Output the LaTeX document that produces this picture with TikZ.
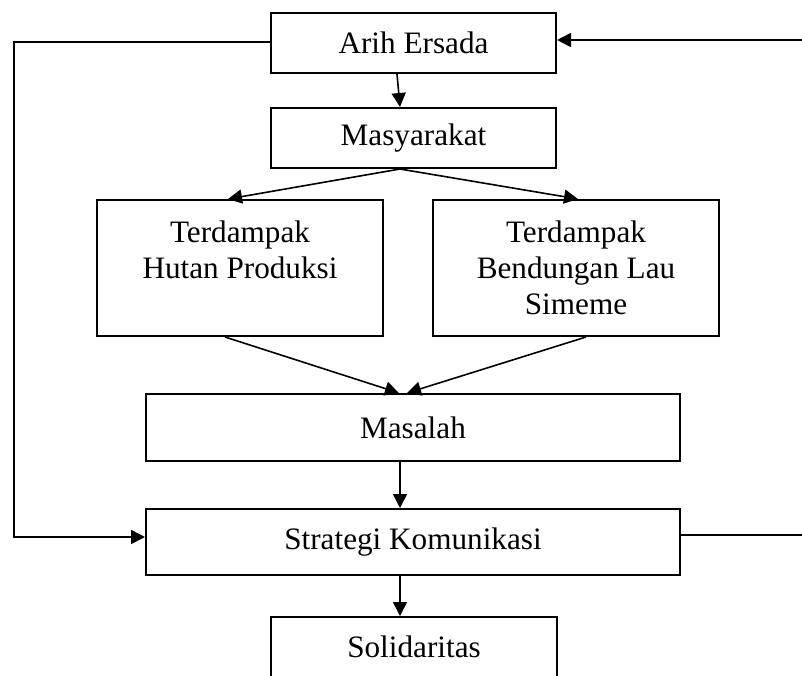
\documentclass[tikz,border=0pt]{standalone}
\usepackage{fontspec}
\setmainfont{Liberation Serif}
\usepackage{tikz}
\usetikzlibrary{arrows.meta}

\tikzset{
  box/.style={draw=black, line width=1pt, rectangle, align=center, inner sep=0pt,
    font=\fontsize{15.6}{18}\selectfont},
  arr/.style={-{Triangle[length=7pt,width=7pt]}, line width=0.8pt},
  ln/.style={line width=0.8pt}
}

\begin{document}
\begin{tikzpicture}[x=0.5pt, y=-0.5pt]
\useasboundingbox (0,0) rectangle (802,675);
\clip (0,0) rectangle (802,675);

\node[box, minimum width=142.5pt, minimum height=30pt] (arih) at (413.5,43) {Arih Ersada};
\node[box, minimum width=142.5pt, minimum height=30pt] (masya) at (413.5,138) {Masyarakat};
\node[box, minimum width=143pt, minimum height=68pt] (hutan) at (240,268) {Terdampak\\Hutan Produksi\\\mbox{}};
\node[box, minimum width=143pt, minimum height=68pt] (bendungan) at (576,268) {Terdampak\\Bendungan Lau\\Simeme};
\node[box, minimum width=267pt, minimum height=33.5pt] (masalah) at (413,427.5) {Masalah};
\node[box, minimum width=267pt, minimum height=33pt] (strategi) at (413,542) {Strategi Komunikasi};
\node[box, minimum width=143pt, minimum height=30pt] (solid) at (414,647) {Solidaritas};

\coordinate (lt) at (14,42);
\coordinate (lb) at (14,537);
\coordinate (rt) at (802,40);
\coordinate (rb) at (802,535);

% alur utama
\draw[arr] ([xshift=-8.25pt]arih.south) -- ([xshift=-6.75pt]masya.north);
\draw[arr] ([xshift=-6.75pt]masya.south) -- ([xshift=-6pt]hutan.north);
\draw[arr] ([xshift=-6.75pt]masya.south) -- ([xshift=1pt]bendungan.north);
\draw[arr] ([xshift=-7.5pt]hutan.south) -- ([xshift=-7pt]masalah.north);
\draw[arr] ([xshift=5pt]bendungan.south) -- ([xshift=-3pt]masalah.north);
\draw[arr] ([xshift=-6.5pt]masalah.south) -- ([xshift=-6.5pt]strategi.north);
\draw[arr] ([xshift=-6.5pt]strategi.south) -- ([xshift=-7pt]solid.north);

% umpan balik
\draw[arr] ([yshift=0.5pt]arih.west) -- (lt) -- (lb) -- ([yshift=2.5pt]strategi.west);
\draw[arr] (rt) -- ([yshift=1.5pt]arih.east);
\draw[ln] ([yshift=3.5pt]strategi.east) -- (rb);
\end{tikzpicture}
\end{document}
